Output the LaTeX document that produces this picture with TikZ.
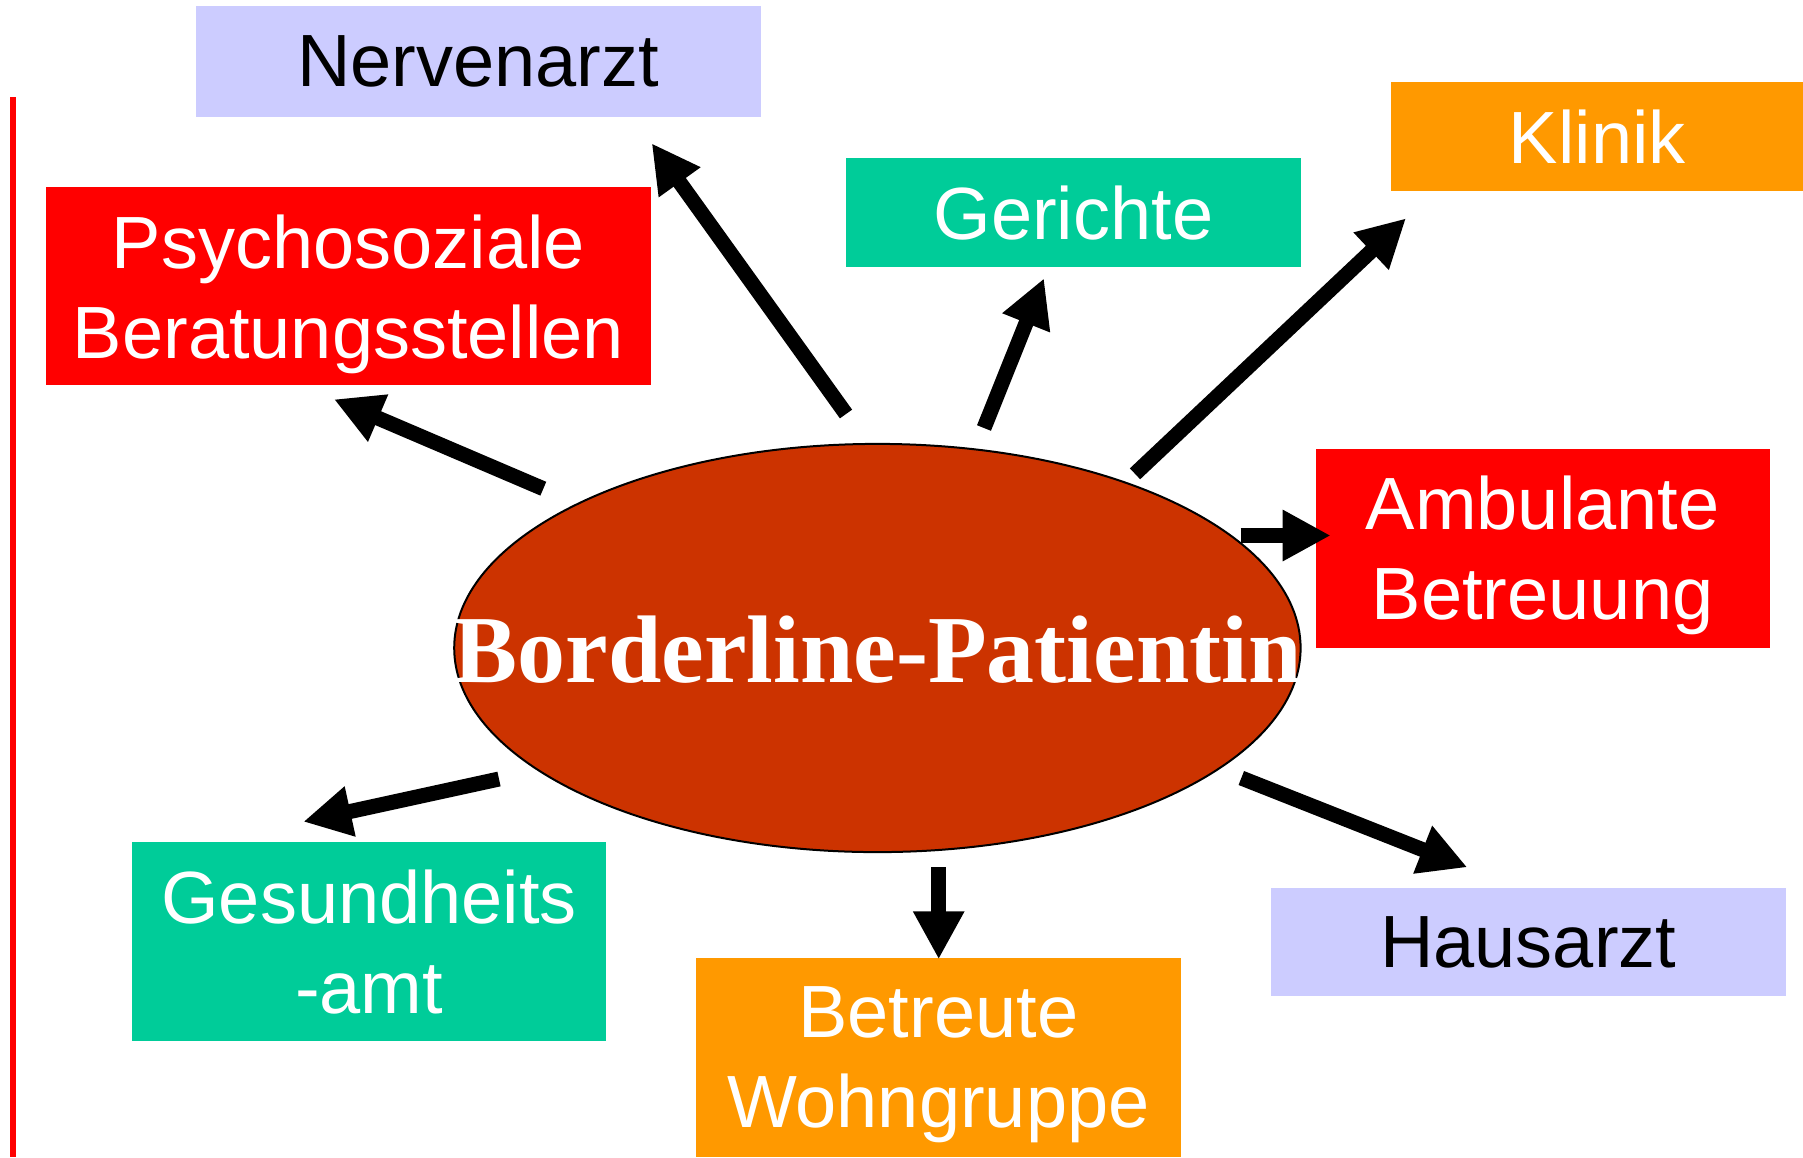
\documentclass[tikz,border=0pt]{standalone}
\usepackage{fontspec}
\setmainfont{Liberation Sans}
\newfontfamily\serifb{Liberation Serif}
\usetikzlibrary{arrows.meta,shapes.geometric}
\definecolor{lav}{HTML}{CCCCFF}
\definecolor{myred}{HTML}{FF0000}
\definecolor{tealg}{HTML}{00CC99}
\definecolor{orng}{HTML}{FF9900}
\definecolor{brick}{HTML}{CC3300}
\begin{document}
\begin{tikzpicture}[x=1pt,y=-1pt,
  box/.style={rectangle, inner sep=0pt, align=center, text depth=0pt, font=\fontsize{74}{90}\selectfont},
  wbox/.style={box, text=white},
  arr/.style={line width=15pt, line cap=butt, -{Triangle[length=48pt,width=48pt]}}]
\useasboundingbox (0,0) rectangle (1803,1157);
% left red line
\coordinate (lt) at (12.5,97.3);
\coordinate (lb) at (12.5,1157);
\draw[myred, line width=6pt] (lt) -- (lb);
% boxes
\node[box, fill=lav, minimum width=565.5pt, minimum height=111.6pt] (nerv) at (478.3,61.5) {Nervenarzt};
\node[wbox, fill=myred, minimum width=605pt, minimum height=197.8pt] (psych) at (348.5,286.3) {Psychosoziale\\Beratungsstellen};
\node[wbox, fill=tealg, minimum width=454.2pt, minimum height=109.3pt] (ger) at (1073.4,212.2) {Gerichte};
\node[wbox, fill=orng, minimum width=411.6pt, minimum height=109.3pt] (klin) at (1597.2,136.3) {Klinik};
\node[wbox, fill=myred, minimum width=454.2pt, minimum height=199pt] (amb) at (1542.6,548) {Ambulante\\Betreuung};
\node[box, fill=lav, minimum width=515.2pt, minimum height=108.1pt] (haus) at (1528.2,941.8) {Hausarzt};
\node[wbox, fill=orng, minimum width=485.3pt, minimum height=199pt] (betr) at (938.3,1057.4) {Betreute\\Wohngruppe};
\node[wbox, fill=tealg, minimum width=473.8pt, minimum height=199pt] (ges) at (369.1,941.2) {Gesundheits\\-amt};
% ellipse
\draw[black, line width=2pt, fill=brick] (877.4,648) ellipse [x radius=423.2, y radius=204.1];
\node[inner sep=0pt, text=white,
      font=\serifb\bfseries\fontsize{96}{110}\selectfont] (pat) at (877.4,650) {Borderline-Patientin};
% arrows
\coordinate (s1) at (846,414);     \coordinate (t1) at (651.7,143.3);
\coordinate (s2) at (543.3,488.7); \coordinate (t2) at (334,399.3);
\coordinate (s3) at (984,428);     \coordinate (t3) at (1044,278.3);
\coordinate (s4) at (1135,473.8);  \coordinate (t4) at (1406,218.3);
\coordinate (s5) at (1240.7,535.5);\coordinate (t5) at (1330.7,535.5);
\coordinate (s6) at (1241.3,778);  \coordinate (t6) at (1467.3,867.3);
\coordinate (s7) at (938.7,867);   \coordinate (t7) at (938.7,959.3);
\coordinate (s8) at (499,779);     \coordinate (t8) at (303.3,821.7);
\draw[arr] (s1) -- (t1);
\draw[arr] (s2) -- (t2);
\draw[arr] (s3) -- (t3);
\draw[arr] (s4) -- (t4);
\draw[arr] (s5) -- (t5);
\draw[arr] (s6) -- (t6);
\draw[arr] (s7) -- (t7);
\draw[arr] (s8) -- (t8);
\end{tikzpicture}
\end{document}
